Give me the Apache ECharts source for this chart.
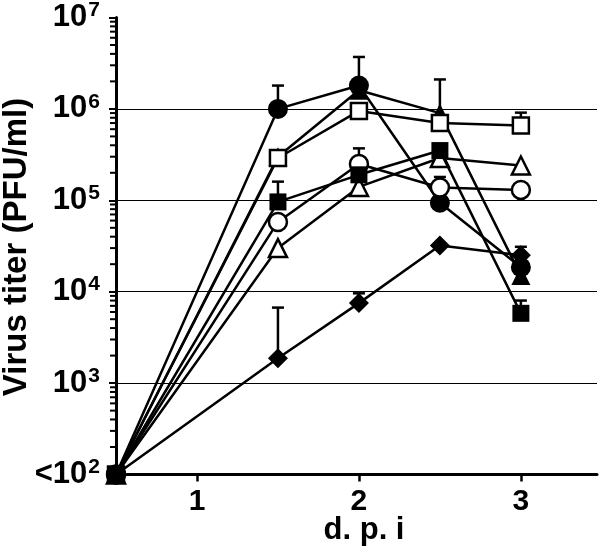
<!DOCTYPE html>
<html><head><meta charset="utf-8">
<script src="https://cdn.jsdelivr.net/npm/echarts@6/dist/echarts.min.js"></script>
<style>html,body{margin:0;padding:0;background:#fff}#c{width:600px;height:549px}</style>
</head><body><div id="c"></div>
<script>
// ---- data ----
const days = [0.5, 1.5, 2, 2.5, 3];
const filledCircle   = [1e2, 1.0e6, 1.8e6, 9.4e4, 1.85e4];
const openSquare     = [1e2, 2.9e5, 9.5e5, 7.0e5, 6.6e5];
const filledTriangle = [1e2, 3.0e5, 1.6e6, 9.0e5, 1.5e4];
const openCircle     = [1e2, 5.8e4, 2.5e5, 1.38e5, 1.3e5];
const openTriangle   = [1e2, 3.0e4, 1.4e5, 2.9e5, 2.4e5];
const filledDiamond  = [1e2, 1.87e3, 7.5e3, 3.2e4, 2.5e4];
const filledSquare   = [1e2, 9.6e4, 1.9e5, 3.5e5, 5.8e3];
// upper error bar ends (null = none visible)
const filledCircleErr   = [null, 1.8e6, 3.7e6, null, null];
const openSquareErr     = [null, null, null, null, 9.1e5];
const filledTriangleErr = [null, null, null, 2.1e6, null];
const openCircleErr     = [null, null, 3.7e5, 1.8e5, null];
const openTriangleErr   = [null, null, null, null, null];
const filledDiamondErr  = [null, 6.7e3, 9.6e3, null, 3.1e4];
const filledSquareErr   = [null, 1.6e5, null, null, 8.0e3];
const xTicks = [1, 2, 3];
const minorTickVals = [];
for (let e = 2; e < 7; e++) for (let m = 2; m <= 9; m++) minorTickVals.push(m * Math.pow(10, e));

const FONT = 'Liberation Sans';
const W = 2.5;
const defs = [
  {v: filledCircle, err: filledCircleErr, symbol: 'circle', size: 20, fill: '#000'},
  {v: filledTriangle, err: filledTriangleErr, symbol: 'triangle', size: 19, fill: '#000'},
  {v: filledDiamond, err: filledDiamondErr, symbol: 'diamond', size: 20, fill: '#000'},
  {v: openSquare, err: openSquareErr, symbol: 'rect', size: 16, fill: '#fff'},
  {v: openCircle, err: openCircleErr, symbol: 'circle', size: 18, fill: '#fff'},
  {v: openTriangle, err: openTriangleErr, symbol: 'triangle', size: 18, fill: '#fff'},
  {v: filledSquare, err: filledSquareErr, symbol: 'rect', size: 17, fill: '#000'}
];

const series = [];
const errData = [];
defs.forEach(d => d.err.forEach((t, i) => { if (t != null) errData.push([days[i], d.v[i], t]); }));
series.push({
  type: 'custom', z: 1, silent: true, data: errData,
  renderItem: function (params, api) {
    const p0 = api.coord([api.value(0), api.value(1)]);
    const p1 = api.coord([api.value(0), api.value(2)]);
    return {type: 'group', children: [
      {type: 'line', shape: {x1: p0[0], y1: p0[1], x2: p1[0], y2: p1[1]}, style: {stroke: '#000', lineWidth: W}},
      {type: 'line', shape: {x1: p1[0] - 6, y1: p1[1], x2: p1[0] + 6, y2: p1[1]}, style: {stroke: '#000', lineWidth: W}}
    ]};
  }
});
series.push({
  type: 'custom', z: 1, silent: true, clip: false,
  data: minorTickVals.map(v => [days[0], v]),
  renderItem: function (params, api) {
    const p = api.coord([days[0], api.value(1)]);
    return {type: 'line', shape: {x1: p[0] - 6, y1: p[1], x2: p[0], y2: p[1]}, style: {stroke: '#000', lineWidth: 2}};
  }
});
defs.forEach((d, k) => {
  series.push({
    type: 'line', z: 3 + k,
    data: d.v.map((y, i) => [days[i], y]),
    symbol: d.symbol, symbolSize: d.size, showAllSymbol: true,
    lineStyle: {color: '#000', width: W},
    itemStyle: {color: d.fill, borderColor: '#000', borderWidth: d.fill === '#fff' ? W : 0},
    emphasis: {disabled: true}, animation: false
  });
});

const chart = echarts.init(document.getElementById('c'), null, {renderer: 'canvas'});
chart.setOption({
  animation: false,
  backgroundColor: '#fff',
  grid: {left: 116, right: 3, top: 16.5, bottom: 74.5, containLabel: false},
  xAxis: {
    type: 'value', min: 0.5, max: 3.47,
    axisLine: {lineStyle: {color: '#000', width: 3}},
    axisTick: {show: true, length: 7, lineStyle: {color: '#000', width: 2.5}, customValues: xTicks},
    axisLabel: {customValues: xTicks, color: '#000', fontFamily: FONT, fontWeight: 'bold', fontSize: 30, margin: 12},
    splitLine: {show: false}
  },
  yAxis: {
    type: 'log', logBase: 10, min: 100, max: 1e7,
    axisLine: {show: true, lineStyle: {color: '#000', width: 3}},
    axisTick: {show: true, length: 7, lineStyle: {color: '#000', width: 2}},
    axisLabel: {
      margin: 16, color: '#000',
      formatter: function (val) {
        const e = Math.round(Math.log10(val));
        return (e === 2 ? '{b|<10}' : '{b|10}') + '{s|' + e + '}';
      },
      rich: {
        b: {fontFamily: FONT, fontWeight: 'bold', fontSize: 31, color: '#000'},
        s: {fontFamily: FONT, fontWeight: 'bold', fontSize: 21, color: '#000', padding: [0, 0, 14, 1]}
      }
    },
    splitLine: {show: true, showMinLine: false, showMaxLine: false, lineStyle: {color: '#000', width: 1}}
  },
  graphic: [
    {type: 'text', x: 364, y: 530, style: {text: 'd. p. i', font: 'bold 31px "Liberation Sans"', fill: '#000', textAlign: 'center', textVerticalAlign: 'middle'}},
    {type: 'text', rotation: Math.PI / 2, x: 17, y: 247, style: {text: 'Virus titer (PFU/ml)', font: 'bold 33px "Liberation Sans"', fill: '#000', textAlign: 'center', textVerticalAlign: 'middle'}}
  ],
  series: series
});
</script></body></html>
